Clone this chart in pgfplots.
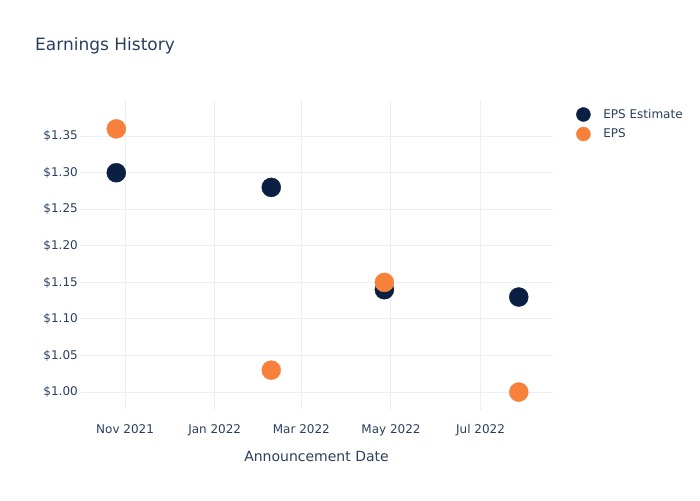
\documentclass[border=0pt]{standalone}
\usepackage{pgfplots}
\pgfplotsset{compat=1.18}
\usepackage{fontspec}
\setmainfont{DejaVu Sans}
\definecolor{plotlytext}{HTML}{2A3F5F}
\definecolor{gridcol}{HTML}{EBF0F8}
\definecolor{estcol}{HTML}{0B1F42}
\definecolor{epscol}{HTML}{F7813A}
\begin{document}
\begin{tikzpicture}
\useasboundingbox (0pt,0pt) rectangle (700pt,500pt);
% title
\node[anchor=base west, text=plotlytext, inner sep=0pt,
      font=\fontsize{17}{20}\selectfont] at (35pt,449pt) {Earnings History};
\begin{axis}[
    at={(80pt,90pt)}, anchor=south west,
    scale only axis,
    width=473pt, height=310pt,
    % days counted from 1 Nov 2021
    xmin=-30.7, xmax=291.3,
    ymin=0.9755, ymax=1.3995,
    axis line style={draw=none},
    major tick length=0pt,
    xtick={0,61,120,181,242},
    xticklabels={Nov 2021,Jan 2022,Mar 2022,May 2022,Jul 2022},
    ytick={1.00,1.05,1.10,1.15,1.20,1.25,1.30,1.35},
    yticklabels={\$1.00,\$1.05,\$1.10,\$1.15,\$1.20,\$1.25,\$1.30,\$1.35},
    ticklabel style={font=\fontsize{12}{14}\selectfont, text=plotlytext},
    xticklabel style={anchor=base, yshift=-23.5pt},
    yticklabel style={anchor=east, inner sep=0pt, xshift=-2pt},
    grid=major,
    grid style={gridcol, line width=1pt},
    xlabel={Announcement Date},
    xlabel style={font=\fontsize{14}{16}\selectfont, text=plotlytext,
                  at={(axis description cs:0.5,0)}, anchor=base, yshift=-51pt},
    legend cell align=left,
    legend style={at={(axis description cs:1,1)}, anchor=north west,
                  xshift=20pt, yshift=-5pt, draw=none, fill=none,
                  font=\fontsize{12}{14}\selectfont, text=plotlytext,
                  row sep=5pt},
    legend image code/.code={\fill[#1] (0pt,0pt) circle (7pt);
                             \path[draw=none] (0pt,0pt) -- (18pt,0pt);},
]
\addplot[only marks, mark=*, mark size=9.5pt, color=estcol]
    coordinates {(-6,1.30) (99.5,1.28) (176.5,1.14) (268,1.13)};
\addlegendentry{EPS Estimate}
\addplot[only marks, mark=*, mark size=9.5pt, color=epscol]
    coordinates {(-6,1.36) (99.5,1.03) (176.5,1.15) (268,1.00)};
\addlegendentry{EPS}
\end{axis}
\end{tikzpicture}
\end{document}
